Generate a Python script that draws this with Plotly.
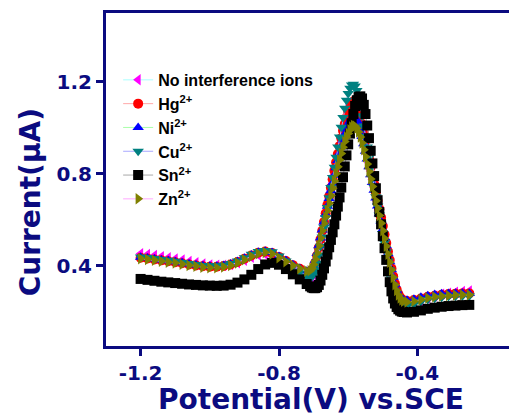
import plotly.graph_objects as go

# ---------------- data ----------------
potential = [
    -1.20, -1.18, -1.16, -1.14, -1.12, -1.10, -1.08, -1.06, -1.04, -1.02,
    -1.00, -0.98, -0.96, -0.94, -0.92, -0.90, -0.88, -0.86, -0.84, -0.82,
    -0.80, -0.78, -0.76, -0.74, -0.72,
    -0.710, -0.705, -0.700, -0.695, -0.690, -0.685, -0.680, -0.675, -0.670, -0.665,
    -0.660, -0.655, -0.650, -0.645, -0.640, -0.635, -0.630, -0.625, -0.620, -0.615,
    -0.610, -0.605, -0.600, -0.595, -0.590, -0.585, -0.580, -0.575, -0.570, -0.565,
    -0.560, -0.555, -0.550, -0.545, -0.540, -0.535, -0.530, -0.525, -0.520, -0.515,
    -0.510, -0.505, -0.500, -0.495, -0.490, -0.485, -0.480, -0.475, -0.470, -0.465,
    -0.460, -0.455, -0.450, -0.445, -0.440,
    -0.43, -0.41, -0.39, -0.37, -0.35, -0.33, -0.31, -0.29, -0.27, -0.25,
]

no_interference = [
    0.452, 0.448, 0.444, 0.439, 0.434, 0.429, 0.424, 0.418, 0.412, 0.407,
    0.403, 0.401, 0.401, 0.405, 0.413, 0.424, 0.436, 0.446, 0.450, 0.443,
    0.425, 0.403, 0.380, 0.358, 0.340,
    0.333, 0.342, 0.362, 0.392, 0.428, 0.466, 0.505, 0.544, 0.582, 0.619,
    0.655, 0.690, 0.725, 0.760, 0.795, 0.830, 0.864, 0.897, 0.929, 0.959,
    0.987, 1.013, 1.036, 1.056, 1.072, 1.080, 1.077, 1.064, 1.044, 1.018,
    0.988, 0.955, 0.920, 0.884, 0.848, 0.812, 0.776, 0.741, 0.706, 0.671,
    0.636, 0.600, 0.564, 0.528, 0.492, 0.455, 0.418, 0.381, 0.345, 0.311,
    0.282, 0.259, 0.243, 0.233, 0.227,
    0.224, 0.232, 0.245, 0.258, 0.268, 0.275, 0.280, 0.284, 0.287, 0.289,
]

hg = [
    0.434, 0.431, 0.427, 0.423, 0.419, 0.415, 0.410, 0.405, 0.401, 0.397,
    0.395, 0.395, 0.398, 0.405, 0.416, 0.430, 0.444, 0.456, 0.461, 0.455,
    0.438, 0.420, 0.402, 0.386, 0.372,
    0.365, 0.372, 0.388, 0.413, 0.444, 0.479, 0.515, 0.552, 0.590, 0.628,
    0.665, 0.702, 0.739, 0.776, 0.813, 0.850, 0.886, 0.921, 0.955, 0.987,
    1.017, 1.045, 1.069, 1.090, 1.106, 1.115, 1.112, 1.098, 1.076, 1.048,
    1.015, 0.980, 0.943, 0.905, 0.867, 0.829, 0.792, 0.755, 0.718, 0.682,
    0.646, 0.609, 0.572, 0.535, 0.498, 0.461, 0.424, 0.388, 0.353, 0.322,
    0.296, 0.276, 0.262, 0.253, 0.248,
    0.246, 0.250, 0.257, 0.264, 0.269, 0.273, 0.276, 0.278, 0.279, 0.279,
]

ni = [
    0.436, 0.433, 0.429, 0.425, 0.421, 0.417, 0.412, 0.407, 0.403, 0.399,
    0.397, 0.397, 0.400, 0.407, 0.418, 0.432, 0.446, 0.458, 0.463, 0.457,
    0.440, 0.422, 0.404, 0.388, 0.376,
    0.370, 0.380, 0.398, 0.423, 0.453, 0.486, 0.520, 0.555, 0.590, 0.624,
    0.658, 0.692, 0.726, 0.760, 0.793, 0.826, 0.858, 0.889, 0.918, 0.946,
    0.972, 0.995, 1.014, 1.030, 1.041, 1.046, 1.043, 1.032, 1.014, 0.990,
    0.962, 0.931, 0.898, 0.864, 0.830, 0.796, 0.762, 0.728, 0.694, 0.660,
    0.626, 0.592, 0.557, 0.522, 0.487, 0.452, 0.417, 0.382, 0.349, 0.319,
    0.294, 0.275, 0.262, 0.254, 0.250,
    0.249, 0.254, 0.262, 0.269, 0.274, 0.277, 0.279, 0.280, 0.280, 0.279,
]

cu = [
    0.438, 0.435, 0.431, 0.427, 0.423, 0.419, 0.414, 0.409, 0.405, 0.401,
    0.399, 0.399, 0.402, 0.409, 0.420, 0.434, 0.449, 0.461, 0.466, 0.460,
    0.442, 0.420, 0.396, 0.372, 0.354,
    0.350, 0.352, 0.362, 0.382, 0.410, 0.445, 0.484, 0.525, 0.567, 0.610,
    0.653, 0.696, 0.740, 0.784, 0.828, 0.872, 0.916, 0.960, 1.003, 1.045,
    1.085, 1.120, 1.150, 1.172, 1.186, 1.190, 1.182, 1.162, 1.132, 1.095,
    1.053, 1.008, 0.962, 0.916, 0.870, 0.825, 0.782, 0.740, 0.700, 0.660,
    0.620, 0.580, 0.540, 0.500, 0.460, 0.420, 0.381, 0.343, 0.308, 0.280,
    0.258, 0.243, 0.233, 0.227, 0.224,
    0.223, 0.232, 0.243, 0.252, 0.258, 0.262, 0.265, 0.267, 0.268, 0.268,
]

sn = [
    0.342, 0.338, 0.334, 0.330, 0.327, 0.324, 0.321, 0.318, 0.316, 0.314,
    0.313, 0.312, 0.313, 0.317, 0.326, 0.340, 0.360, 0.385, 0.405, 0.412,
    0.404, 0.385, 0.362, 0.340, 0.320,
    0.310, 0.305, 0.302, 0.302, 0.306, 0.316, 0.335, 0.360, 0.388, 0.418,
    0.448, 0.480, 0.512, 0.545, 0.580, 0.618, 0.657, 0.697, 0.740, 0.785,
    0.832, 0.880, 0.928, 0.975, 1.020, 1.060, 1.095, 1.120, 1.134, 1.137,
    1.128, 1.100, 1.060, 1.010, 0.955, 0.900, 0.845, 0.790, 0.737, 0.685,
    0.633, 0.580, 0.528, 0.476, 0.425, 0.375, 0.328, 0.288, 0.257, 0.235,
    0.220, 0.210, 0.204, 0.200, 0.198,
    0.196, 0.199, 0.205, 0.212, 0.217, 0.221, 0.224, 0.226, 0.228, 0.229,
]

zn = [
    0.430, 0.427, 0.423, 0.419, 0.415, 0.411, 0.406, 0.401, 0.397, 0.393,
    0.391, 0.391, 0.394, 0.401, 0.412, 0.426, 0.440, 0.452, 0.457, 0.451,
    0.434, 0.417, 0.401, 0.387, 0.376,
    0.378, 0.388, 0.405, 0.428, 0.455, 0.487, 0.520, 0.552, 0.584, 0.613,
    0.640, 0.672, 0.705, 0.737, 0.768, 0.800, 0.830, 0.860, 0.888, 0.915,
    0.940, 0.960, 0.975, 0.992, 1.004, 1.010, 1.008, 0.998, 0.982, 0.960,
    0.934, 0.905, 0.874, 0.842, 0.810, 0.777, 0.745, 0.713, 0.682, 0.650,
    0.618, 0.585, 0.552, 0.518, 0.484, 0.450, 0.415, 0.381, 0.348, 0.317,
    0.292, 0.272, 0.259, 0.250, 0.245,
    0.242, 0.245, 0.252, 0.259, 0.264, 0.268, 0.270, 0.272, 0.273, 0.273,
]

series_names = ["No interference ions", "Hg<sup>2+</sup>", "Ni<sup>2+</sup>",
                "Cu<sup>2+</sup>", "Sn<sup>2+</sup>", "Zn<sup>2+</sup>"]
series_values = [no_interference, hg, ni, cu, sn, zn]

x_tick_vals = [-1.2, -0.8, -0.4]
x_tick_text = ["-1.2", "-0.8", "-0.4"]
y_tick_vals = [0.4, 0.8, 1.2]
y_tick_text = ["0.4", "0.8", "1.2"]

# ---------------- styles ----------------
marker_colors = ["#ff00ff", "#ff0000", "#0000ff", "#008080", "#000000", "#808000"]
line_colors = ["#a8ffff", "#ffa8a8", "#a8ffa8", "#a8a8ff", "#a8a8a8", "#ffa8ff"]
symbols = ["triangle-left", "circle", "triangle-up", "triangle-down", "square", "triangle-right"]

NAVY = "#0b0b80"

fig = go.Figure()
for name, vals, mc, lc, sym in zip(series_names, series_values, marker_colors, line_colors, symbols):
    fig.add_trace(go.Scatter(
        x=potential, y=vals, name=name, mode="lines+markers",
        line=dict(color=lc, width=1),
        marker=dict(symbol=sym, color=mc, size=10, line=dict(width=0)),
    ))

# page body has an 8px margin; plot area placed so it lands at the reference position
fig.update_layout(
    width=517, height=416,
    margin=dict(l=98, r=0, t=5, b=78),
    paper_bgcolor="white", plot_bgcolor="white",
    showlegend=True,
    legend=dict(
        x=0.029, y=0.85, xanchor="left", yanchor="top",
        bgcolor="rgba(0,0,0,0)", borderwidth=0,
        font=dict(family="Liberation Sans", size=16, color="black", weight="bold"),
        tracegroupgap=0,
    ),
    font=dict(family="DejaVu Sans", color=NAVY),
)

axis_common = dict(
    showgrid=False, zeroline=False, showline=True, linewidth=3, linecolor=NAVY,
    ticks="outside", ticklen=7, tickwidth=3, tickcolor=NAVY,
    tickfont=dict(family="DejaVu Sans", size=20, color=NAVY, weight="bold"),
)
fig.update_xaxes(range=[-1.3, -0.089], tickvals=x_tick_vals, ticktext=x_tick_text,
                 mirror=True, **axis_common)
fig.update_yaxes(range=[0.05, 1.5], tickvals=y_tick_vals, ticktext=y_tick_text,
                 mirror=False, **axis_common)

fig.add_annotation(text="Potential(V) vs.SCE", xref="paper", yref="paper",
                   x=0.489, y=-0.162, xanchor="center", yanchor="middle", showarrow=False,
                   font=dict(family="DejaVu Sans", size=28, color=NAVY, weight="bold"))
fig.add_annotation(text="Current(μA)", xref="paper", yref="paper",
                   x=-0.181, y=0.432, xanchor="center", yanchor="middle", showarrow=False,
                   textangle=-90,
                   font=dict(family="DejaVu Sans", size=28, color=NAVY, weight="bold"))

fig.write_html("out.html")
